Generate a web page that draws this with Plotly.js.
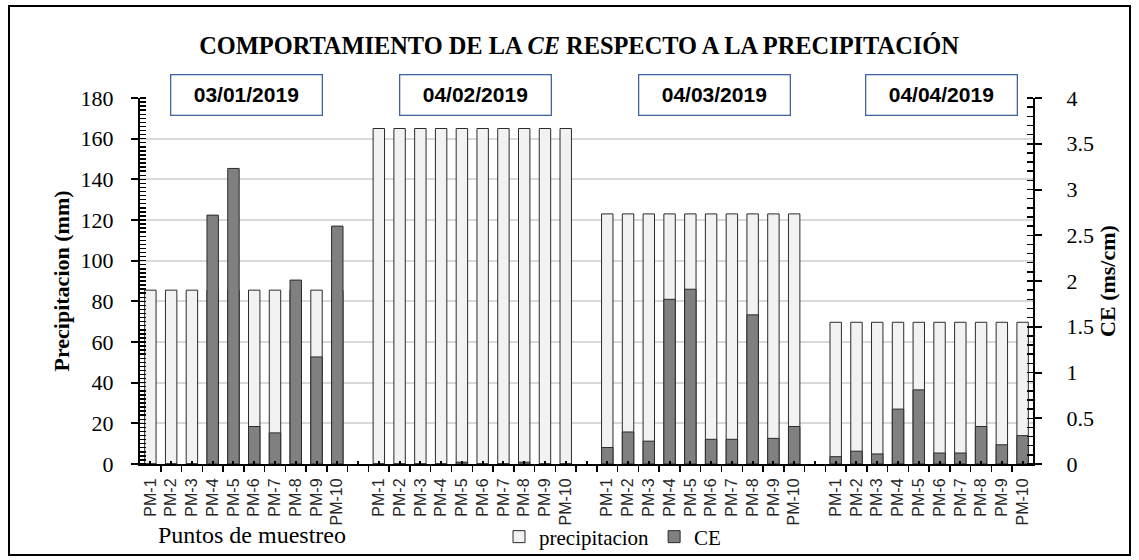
<!DOCTYPE html>
<html>
<head>
<meta charset="utf-8">
<script src="https://cdn.plot.ly/plotly-3.0.1.min.js"></script>
<style>
  html, body { margin: 0; padding: 0; background: #fff; }
  #wrap { position: relative; width: 1139px; height: 560px; }
  #chart { width: 1139px; height: 560px; }
  #frame { position: absolute; left: 8px; top: 5px; width: 1123px; height: 551px;
           border: 2px solid #000; pointer-events: none; box-sizing: border-box; }
</style>
</head>
<body>
<div id="wrap">
  <div id="chart"></div>
  <div id="frame"></div>
</div>
<script>
// ---- data ----
const puntos = ['PM-1','PM-2','PM-3','PM-4','PM-5','PM-6','PM-7','PM-8','PM-9','PM-10'];
const fechas = ['03/01/2019','04/02/2019','04/03/2019','04/04/2019'];

// precipitation (mm) per sampling point, one array per date
const precip_0301 = [85.5,85.5,85.5,85.5,85.5,85.5,85.5,85.5,85.5,85.5];
const precip_0402 = [165,165,165,165,165,165,165,165,165,165];
const precip_0403 = [123,123,123,123,123,123,123,123,123,123];
const precip_0404 = [69.7,69.7,69.7,69.7,69.7,69.7,69.7,69.7,69.7,69.7];

// CE (ms/cm) per sampling point, one array per date
const ce_0301 = [0,0,0,2.72,3.23,0.41,0.34,2.01,1.17,2.60];
const ce_0402 = [0,0,0,0,0.02,0,0,0.02,0,0];
const ce_0403 = [0.18,0.35,0.25,1.80,1.91,0.27,0.27,1.63,0.28,0.41];
const ce_0404 = [0.08,0.14,0.11,0.60,0.81,0.12,0.12,0.41,0.21,0.31];

const precipGroups = [precip_0301, precip_0402, precip_0403, precip_0404];
const ceGroups = [ce_0301, ce_0402, ce_0403, ce_0404];

// ---- build positions: 10 points per date, one empty slot between dates ----
const slot = puntos.length + 1;
const xs = [], pv = [], cv = [], lbl = [];
precipGroups.forEach((g, gi) => {
  g.forEach((v, i) => {
    xs.push(gi * slot + i);
    pv.push(v);
    cv.push(ceGroups[gi][i]);
    lbl.push(puntos[i]);
  });
});
const nSlots = fechas.length * slot - 1;
const tickvals = [], ticktext = [];
for (let k = 0; k < nSlots; k++) {
  tickvals.push(k);
  const j = xs.indexOf(k);
  ticktext.push(j >= 0 ? lbl[j] : '');
}

const barW = 0.55;
const traces = [
  { type: 'bar', name: 'precipitacion', x: xs, y: pv, width: barW,
    marker: { color: '#f2f2f2', line: { color: '#2b2b2b', width: 1 } },
    yaxis: 'y', hoverinfo: 'y' },
  { type: 'bar', name: 'CE', x: xs, y: cv, width: barW,
    marker: { color: '#808080', line: { color: '#2b2b2b', width: 1 } },
    yaxis: 'y2', hoverinfo: 'y' }
];

const serif = 'Liberation Serif, Times New Roman, serif';
const sans = 'Liberation Sans, Arial, sans-serif';

const plotL = 140, plotR = 1033, plotT = 98, plotB = 464;
const pw = plotR - plotL, ph = plotB - plotT;
const boxCenters = [246, 475.5, 714.5, 941.5]; // px centers of date boxes

const annotations = fechas.map((f, i) => ({
  text: '<b>' + f + '</b>', xref: 'paper', yref: 'paper',
  x: (boxCenters[i] - plotL) / pw, y: (plotB - 94.5) / ph,
  xanchor: 'center', yanchor: 'middle', showarrow: false,
  font: { family: sans, size: 21, color: '#000' },
  bgcolor: '#ffffff', bordercolor: '#41659e', borderwidth: 1.3, borderpad: 0,
  width: 150, height: 39
}));
annotations.push({
  text: 'Puntos de muestreo', xref: 'paper', yref: 'paper',
  x: (252 - plotL) / pw, y: (plotB - 535) / ph, xanchor: 'center', yanchor: 'middle',
  showarrow: false, font: { family: serif, size: 24, color: '#000' }
});

const layout = {
  width: 1139, height: 560,
  margin: { l: plotL, r: 1139 - plotR, t: plotT, b: 560 - plotB, pad: 0, autoexpand: false },
  paper_bgcolor: '#fff', plot_bgcolor: '#fff',
  barmode: 'overlay',
  showlegend: true,
  legend: { orientation: 'h', x: (499 - plotL) / pw, xanchor: 'left',
            y: (plotB - 537) / ph, yanchor: 'middle',
            bgcolor: 'rgba(0,0,0,0)',
            font: { family: serif, size: 21, color: '#000' },
            itemwidth: 30, traceorder: 'normal' },
  title: { text: '<b>COMPORTAMIENTO DE LA <i>CE</i> RESPECTO A LA PRECIPITACIÓN</b>',
           xref: 'container', x: 579 / 1139, xanchor: 'center',
           yref: 'container', y: 1 - 45 / 560, yanchor: 'middle',
           font: { family: serif, size: 24.4, color: '#000' } },
  xaxis: {
    range: [-0.5, nSlots - 0.5], tickmode: 'array', tickvals: tickvals, ticktext: ticktext,
    tickangle: -90, ticks: 'inside', ticklen: 3, tickwidth: 2, tickcolor: '#000',
    tickfont: { family: sans, size: 16, color: '#262626' },
    minor: { tickmode: 'linear', tick0: -0.5, dtick: 1, ticks: 'outside', ticklen: 6,
             tickwidth: 1.5, tickcolor: '#000', showgrid: false },
    showline: true, linecolor: '#000', linewidth: 2, showgrid: false, zeroline: false,
    ticklabelstandoff: 6, automargin: false, fixedrange: true
  },
  yaxis: {
    range: [0, 180], dtick: 20, tick0: 0,
    ticks: 'outside', ticklen: 7, tickwidth: 2, tickcolor: '#000',
    minor: { dtick: 2, ticks: 'inside', ticklen: 6, tickwidth: 1.5, tickcolor: '#000', showgrid: false },
    tickfont: { family: serif, size: 22, color: '#000' },
    ticklabelstandoff: 13,
    showline: true, linecolor: '#000', linewidth: 2,
    showgrid: true, gridcolor: '#d9d9d9', gridwidth: 2, zeroline: false,
    title: { text: '<b>Precipitacion (mm)</b>', font: { family: serif, size: 22, color: '#000' }, standoff: 5 },
    automargin: false, fixedrange: true
  },
  yaxis2: {
    range: [0, 4], dtick: 0.5, tick0: 0, overlaying: 'y', side: 'right', anchor: 'x',
    ticks: 'outside', ticklen: 7, tickwidth: 2, tickcolor: '#000',
    minor: { dtick: 0.1, ticks: 'inside', ticklen: 6, tickwidth: 1.5, tickcolor: '#000', showgrid: false },
    tickfont: { family: serif, size: 22, color: '#000' },
    ticklabelstandoff: 20,
    showline: true, linecolor: '#000', linewidth: 2,
    showgrid: false, zeroline: false,
    title: { text: '<b>CE (ms/cm)</b>', font: { family: serif, size: 22, color: '#000' }, standoff: 7 },
    automargin: false, fixedrange: true
  },
  annotations: annotations
};

Plotly.newPlot('chart', traces, layout, { displayModeBar: false, staticPlot: true });
</script>
</body>
</html>
